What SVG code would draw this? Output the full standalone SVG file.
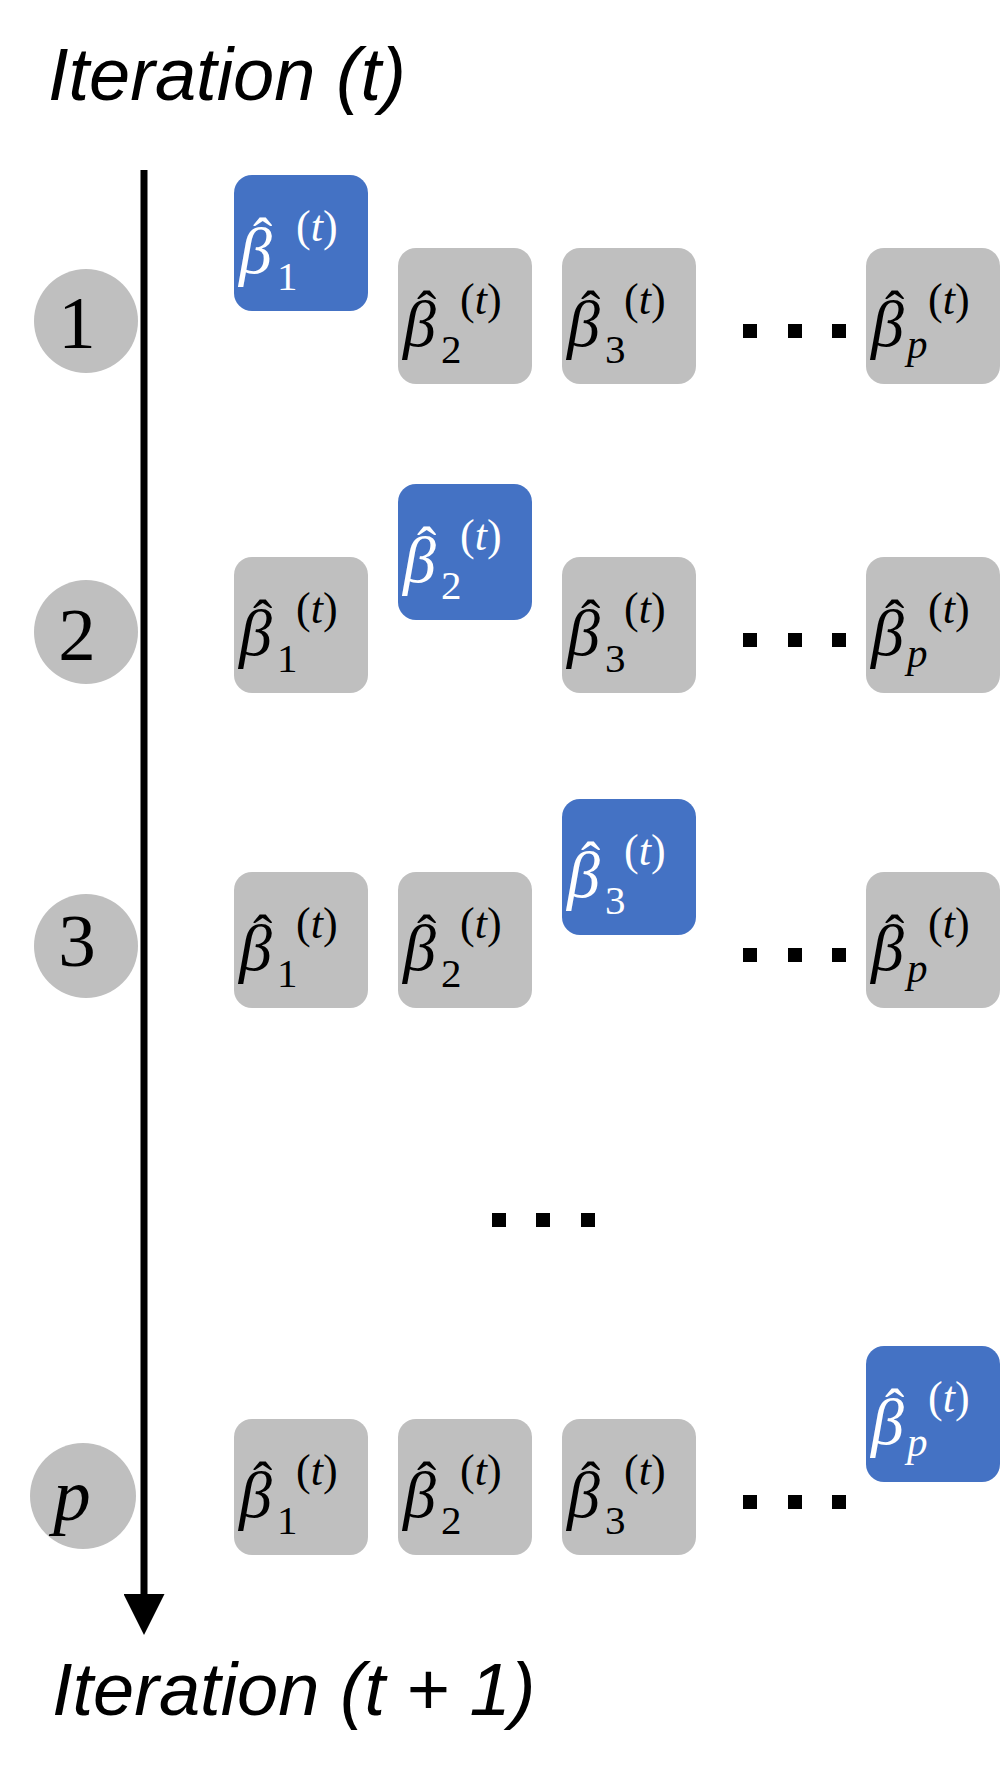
<svg xmlns="http://www.w3.org/2000/svg" width="1000" height="1780" viewBox="0 0 1000 1780">
<style>
.title{font-family:"Liberation Sans",Arial,sans-serif;font-style:italic;font-size:74px;fill:#000}
.circ{fill:#BFBFBF}
.num{font-family:"Liberation Serif","Times New Roman",serif;font-size:75px;fill:#000;text-anchor:middle}
.blue rect{fill:#4472C4}
.gray rect{fill:#BFBFBF}
.blue text{fill:#FFFFFF}
.gray text{fill:#000000}
.m{font-family:"Liberation Serif","Times New Roman",serif}
.beta{font-style:italic;font-size:66px}
.hat{font-style:normal;font-size:58px}
.sup{font-style:normal;font-size:44px}
.sub{font-style:normal;font-size:41px}
.it{font-style:italic}
.dot{fill:#000}
</style>
<defs>
<marker id="arrow" viewBox="0 0 41 41" markerWidth="41" markerHeight="41" markerUnits="userSpaceOnUse" refX="0" refY="20.5" orient="auto">
<path d="M0,0 L41,20.5 L0,41 z" fill="#000"/>
</marker>
</defs>

<text id="title-top" class="title" x="48" y="100">Iteration (t)</text>
<text id="title-bottom" class="title" x="52" y="1715">Iteration (t + 1)</text>

<g id="connectors">
<line x1="144" y1="170" x2="144" y2="1594" stroke="#000" stroke-width="7" marker-end="url(#arrow)"/>
</g>

<g id="step-1"><circle class="circ" cx="86" cy="321" r="52"/><text class="num" x="77" y="348">1</text></g>
<g id="step-2"><circle class="circ" cx="86" cy="632" r="52"/><text class="num" x="77" y="660">2</text></g>
<g id="step-3"><circle class="circ" cx="86" cy="946" r="52"/><text class="num" x="77" y="966">3</text></g>
<g id="step-p"><circle class="circ" cx="83" cy="1496" r="53"/><text class="num it" x="72" y="1520">p</text></g>

<!-- Row 1 -->
<g id="r1-b1" class="blue" transform="translate(234,175)"><rect width="134" height="136" rx="18"/><text class="m"><tspan class="beta" x="5" y="98">β</tspan><tspan class="hat" x="19" y="82">ˆ</tspan><tspan class="sup" x="62" y="66">(<tspan class="it">t</tspan>)</tspan><tspan class="sub" x="43" y="115">1</tspan></text></g>
<g id="r1-b2" class="gray" transform="translate(398,248)"><rect width="134" height="136" rx="18"/><text class="m"><tspan class="beta" x="5" y="98">β</tspan><tspan class="hat" x="19" y="82">ˆ</tspan><tspan class="sup" x="62" y="66">(<tspan class="it">t</tspan>)</tspan><tspan class="sub" x="43" y="115">2</tspan></text></g>
<g id="r1-b3" class="gray" transform="translate(562,248)"><rect width="134" height="136" rx="18"/><text class="m"><tspan class="beta" x="5" y="98">β</tspan><tspan class="hat" x="19" y="82">ˆ</tspan><tspan class="sup" x="62" y="66">(<tspan class="it">t</tspan>)</tspan><tspan class="sub" x="43" y="115">3</tspan></text></g>
<g id="r1-bp" class="gray" transform="translate(866,248)"><rect width="134" height="136" rx="18"/><text class="m"><tspan class="beta" x="5" y="98">β</tspan><tspan class="hat" x="19" y="82">ˆ</tspan><tspan class="sup" x="62" y="66">(<tspan class="it">t</tspan>)</tspan><tspan class="sub it" x="41" y="110">p</tspan></text></g>

<!-- Row 2 -->
<g id="r2-b1" class="gray" transform="translate(234,557)"><rect width="134" height="136" rx="18"/><text class="m"><tspan class="beta" x="5" y="98">β</tspan><tspan class="hat" x="19" y="82">ˆ</tspan><tspan class="sup" x="62" y="66">(<tspan class="it">t</tspan>)</tspan><tspan class="sub" x="43" y="115">1</tspan></text></g>
<g id="r2-b2" class="blue" transform="translate(398,484)"><rect width="134" height="136" rx="18"/><text class="m"><tspan class="beta" x="5" y="98">β</tspan><tspan class="hat" x="19" y="82">ˆ</tspan><tspan class="sup" x="62" y="66">(<tspan class="it">t</tspan>)</tspan><tspan class="sub" x="43" y="115">2</tspan></text></g>
<g id="r2-b3" class="gray" transform="translate(562,557)"><rect width="134" height="136" rx="18"/><text class="m"><tspan class="beta" x="5" y="98">β</tspan><tspan class="hat" x="19" y="82">ˆ</tspan><tspan class="sup" x="62" y="66">(<tspan class="it">t</tspan>)</tspan><tspan class="sub" x="43" y="115">3</tspan></text></g>
<g id="r2-bp" class="gray" transform="translate(866,557)"><rect width="134" height="136" rx="18"/><text class="m"><tspan class="beta" x="5" y="98">β</tspan><tspan class="hat" x="19" y="82">ˆ</tspan><tspan class="sup" x="62" y="66">(<tspan class="it">t</tspan>)</tspan><tspan class="sub it" x="41" y="110">p</tspan></text></g>

<!-- Row 3 -->
<g id="r3-b1" class="gray" transform="translate(234,872)"><rect width="134" height="136" rx="18"/><text class="m"><tspan class="beta" x="5" y="98">β</tspan><tspan class="hat" x="19" y="82">ˆ</tspan><tspan class="sup" x="62" y="66">(<tspan class="it">t</tspan>)</tspan><tspan class="sub" x="43" y="115">1</tspan></text></g>
<g id="r3-b2" class="gray" transform="translate(398,872)"><rect width="134" height="136" rx="18"/><text class="m"><tspan class="beta" x="5" y="98">β</tspan><tspan class="hat" x="19" y="82">ˆ</tspan><tspan class="sup" x="62" y="66">(<tspan class="it">t</tspan>)</tspan><tspan class="sub" x="43" y="115">2</tspan></text></g>
<g id="r3-b3" class="blue" transform="translate(562,799)"><rect width="134" height="136" rx="18"/><text class="m"><tspan class="beta" x="5" y="98">β</tspan><tspan class="hat" x="19" y="82">ˆ</tspan><tspan class="sup" x="62" y="66">(<tspan class="it">t</tspan>)</tspan><tspan class="sub" x="43" y="115">3</tspan></text></g>
<g id="r3-bp" class="gray" transform="translate(866,872)"><rect width="134" height="136" rx="18"/><text class="m"><tspan class="beta" x="5" y="98">β</tspan><tspan class="hat" x="19" y="82">ˆ</tspan><tspan class="sup" x="62" y="66">(<tspan class="it">t</tspan>)</tspan><tspan class="sub it" x="41" y="110">p</tspan></text></g>

<!-- Row p -->
<g id="rp-b1" class="gray" transform="translate(234,1419)"><rect width="134" height="136" rx="18"/><text class="m"><tspan class="beta" x="5" y="98">β</tspan><tspan class="hat" x="19" y="82">ˆ</tspan><tspan class="sup" x="62" y="66">(<tspan class="it">t</tspan>)</tspan><tspan class="sub" x="43" y="115">1</tspan></text></g>
<g id="rp-b2" class="gray" transform="translate(398,1419)"><rect width="134" height="136" rx="18"/><text class="m"><tspan class="beta" x="5" y="98">β</tspan><tspan class="hat" x="19" y="82">ˆ</tspan><tspan class="sup" x="62" y="66">(<tspan class="it">t</tspan>)</tspan><tspan class="sub" x="43" y="115">2</tspan></text></g>
<g id="rp-b3" class="gray" transform="translate(562,1419)"><rect width="134" height="136" rx="18"/><text class="m"><tspan class="beta" x="5" y="98">β</tspan><tspan class="hat" x="19" y="82">ˆ</tspan><tspan class="sup" x="62" y="66">(<tspan class="it">t</tspan>)</tspan><tspan class="sub" x="43" y="115">3</tspan></text></g>
<g id="rp-bp" class="blue" transform="translate(866,1346)"><rect width="134" height="136" rx="18"/><text class="m"><tspan class="beta" x="5" y="98">β</tspan><tspan class="hat" x="19" y="82">ˆ</tspan><tspan class="sup" x="62" y="66">(<tspan class="it">t</tspan>)</tspan><tspan class="sub it" x="41" y="110">p</tspan></text></g>

<!-- ellipses -->
<g id="dots-r1"><rect class="dot" x="743" y="324" width="14" height="14"/><rect class="dot" x="788" y="324" width="14" height="14"/><rect class="dot" x="832" y="324" width="14" height="14"/></g>
<g id="dots-r2"><rect class="dot" x="743" y="633" width="14" height="14"/><rect class="dot" x="788" y="633" width="14" height="14"/><rect class="dot" x="832" y="633" width="14" height="14"/></g>
<g id="dots-r3"><rect class="dot" x="743" y="948" width="14" height="14"/><rect class="dot" x="788" y="948" width="14" height="14"/><rect class="dot" x="832" y="948" width="14" height="14"/></g>
<g id="dots-mid"><rect class="dot" x="492" y="1213" width="14" height="14"/><rect class="dot" x="536" y="1213" width="14" height="14"/><rect class="dot" x="581" y="1213" width="14" height="14"/></g>
<g id="dots-rp"><rect class="dot" x="743" y="1495" width="14" height="14"/><rect class="dot" x="788" y="1495" width="14" height="14"/><rect class="dot" x="832" y="1495" width="14" height="14"/></g>
</svg>
